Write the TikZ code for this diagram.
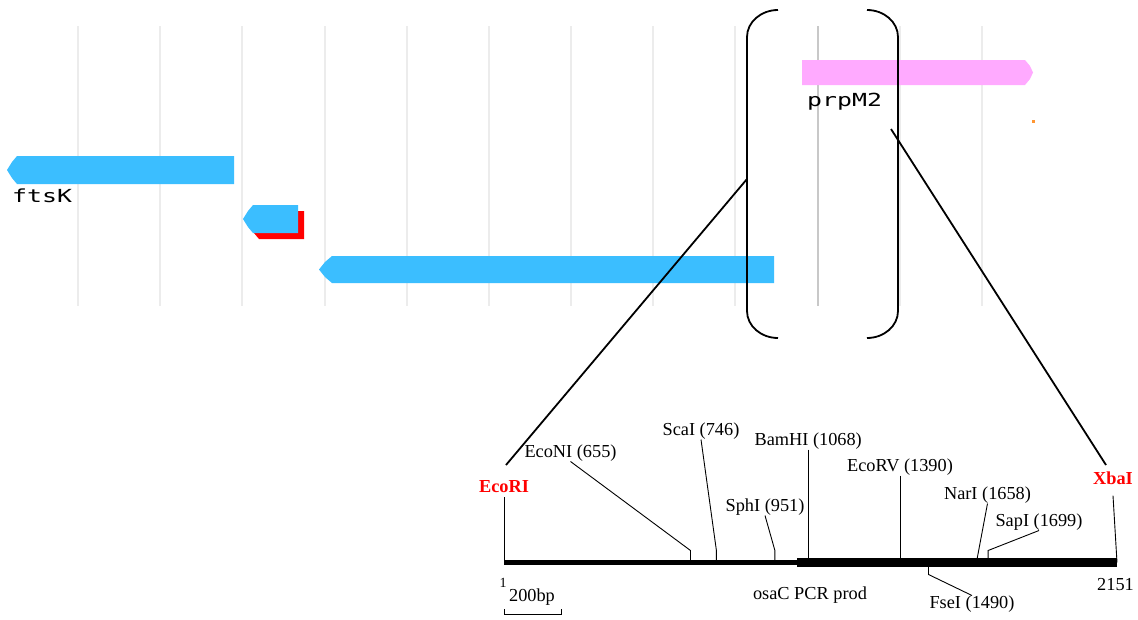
\documentclass[tikz,border=0pt]{standalone}
\usepackage{fontspec}
\setmainfont{Liberation Serif}
\newfontfamily\pixfont{DejaVu Sans Mono}
\definecolor{geneblue}{RGB}{59,190,255}
\definecolor{genepink}{RGB}{255,170,255}
\definecolor{gridgray}{RGB}{236,236,236}
\definecolor{griddark}{RGB}{200,200,200}
\definecolor{siteorange}{RGB}{255,150,50}
\begin{document}
\begin{tikzpicture}[x=1pt,y=-1pt,
  lab/.style={inner sep=0pt, font=\fontsize{18.3}{20}\selectfont},
  cutter/.style={inner sep=0pt, text=red, font=\bfseries\fontsize{18.3}{20}\selectfont},
  leader/.style={line width=0.9pt},
  zoomline/.style={line width=1.8pt},
  gridline/.style={line width=2pt, draw=gridgray},
  genelabel/.style={inner sep=0pt, anchor=base west, font=\pixfont\fontsize{18}{20}\selectfont},
]
\fill[white] (0,0) rectangle (1138,619);
\useasboundingbox (0,0) rectangle (1138,619);

% ---- genome browser track: grid ----
\foreach \k in {0,...,11} {
  \draw[gridline] ({78+82.18*\k},26) -- ({78+82.18*\k},306);
}
\draw[gridline, draw=griddark] (817.6,26) -- (817.6,306);

% ---- genes ----
\fill[geneblue] (234,156) -- (17,156) -- (12,162) -- (7,170) -- (12,178) -- (17,184) -- (234,184) -- cycle;
\fill[red, shift={(6,6)}] (298,205) -- (253,205) -- (248,211) -- (243,219) -- (248,227) -- (253,233) -- (298,233) -- cycle;
\fill[geneblue] (298,205) -- (253,205) -- (248,211) -- (243,219) -- (248,227) -- (253,233) -- (298,233) -- cycle;
\fill[geneblue] (774,256) -- (332,256) -- (325,262) -- (319,269.5) -- (325,277) -- (332,283) -- (774,283) -- cycle;
\fill[genepink] (802,60) -- (1025,60) -- (1030,66) -- (1033,72.5) -- (1030,79) -- (1025,85) -- (802,85) -- cycle;
\fill[siteorange] (1032,120) rectangle (1034.5,122.5);

\node[genelabel] (ftsk) at (12,202) {\scalebox{1.38}[1]{ftsK}};
\node[genelabel] (prpm2) at (807,106) {\scalebox{1.38}[1]{prpM2}};

% ---- zoom bracket ----
\draw[zoomline] (778,10) .. controls (761,10) and (747,22) .. (747,37) -- (747,311)
  .. controls (747,326) and (761,338) .. (778,338);
\draw[zoomline] (867,10) .. controls (884,10) and (898,22) .. (898,37) -- (898,311)
  .. controls (898,326) and (884,338) .. (867,338);

\coordinate (lensL) at (747,179);
\coordinate (lensR) at (891,129);
\coordinate (footL) at (506,465);
\coordinate (footR) at (1106,465);
\draw[zoomline] (lensL) -- (footL);
\draw[zoomline] (lensR) -- (footR);

% ---- restriction map of the PCR product ----
\coordinate (p1)    at (504,562.5);
\coordinate (p655)  at (690.5,562.5);
\coordinate (p746)  at (716.4,562.5);
\coordinate (p951)  at (774.9,562.5);
\coordinate (p1068) at (808.2,562.5);
\coordinate (p1390) at (900,562.5);
\coordinate (p1490) at (928.5,562.5);
\coordinate (p1658) at (976.4,562.5);
\coordinate (p1699) at (988.1,562.5);
\coordinate (p2151) at (1117,562.5);

\node[cutter] (ecori) at (504,487) {EcoRI};
\node[cutter] (xbai) at (1113,478) {XbaI};
\node[lab] (econi) at (570.5,453) {EcoNI (655)};
\node[lab] (scai) at (701,431) {ScaI (746)};
\node[lab] (sphi) at (765,507) {SphI (951)};
\node[lab] (bamhi) at (808.2,441) {BamHI (1068)};
\node[lab] (ecorv) at (900,467) {EcoRV (1390)};
\node[lab] (nari) at (987.5,495) {NarI (1658)};
\node[lab] (sapi) at (1039,522) {SapI (1699)};
\node[lab] (fsei) at (972,604) {FseI (1490)};

\draw[leader] ([yshift=-4pt]ecori.south) -- (p1);
\draw[leader] ([yshift=-11pt]xbai.south) -- (p2151);
\draw[leader] (econi.south) -- ([yshift=12pt]p655) -- (p655);
\draw[leader] (scai.south) -- ([yshift=12pt]p746) -- (p746);
\draw[leader] (sphi.south) -- ([yshift=12pt]p951) -- (p951);
\draw[leader] (bamhi.south) -- (p1068);
\draw[leader] (ecorv.south) -- (p1390);
\draw[leader] (nari.south) -- (p1658);
\draw[leader] (sapi.south) -- ([yshift=12pt]p1699) -- (p1699);
\draw[leader] (p1490) -- ([yshift=-12pt]p1490) -- (fsei.north);

\draw[line width=4.5pt] (p1) -- (797,562.5);
\draw[line width=9pt] (797,562.5) -- (p2151);

\node[lab, font=\fontsize{14}{16}\selectfont] (startnum) at (503,583) {1};
\node[lab] (endnum) at (1115.5,585) {2151};
\node[lab] (prodname) at (810,595.5) {osaC PCR prod};
\node[lab] (barlabel) at (532,597) {200bp};
\draw[leader] (504,609) -- (504,614.5) -- (561,614.5) -- (561,609);
\end{tikzpicture}
\end{document}
